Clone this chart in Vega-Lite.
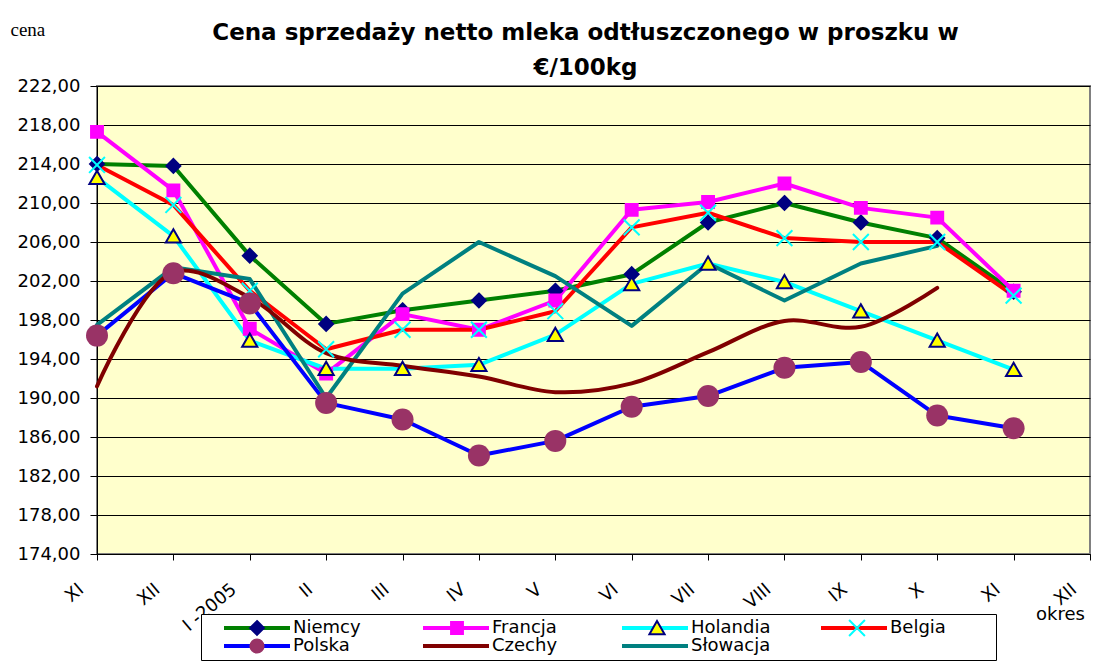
{
  "$schema": "https://vega.github.io/schema/vega-lite/v6.json",
  "width": 993,
  "height": 468,
  "autosize": "none",
  "padding": {"left": 97, "top": 86, "right": 22, "bottom": 114},
  "background": "white",
  "title": {
    "text": ["Cena sprzedaży netto mleka odtłuszczonego w proszku w", "€/100kg"],
    "anchor": "middle",
    "frame": "group",
    "font": "DejaVu Sans",
    "fontSize": 23,
    "fontWeight": "bold",
    "color": "black",
    "lineHeight": 35,
    "offset": 0,
    "dx": -8,
    "dy": 60
  },
  "data": {
    "values": [
      {"m": "XI-04", "s": "Niemcy", "v": 214.0},
      {"m": "XII-04", "s": "Niemcy", "v": 213.8},
      {"m": "I-05", "s": "Niemcy", "v": 204.6},
      {"m": "II-05", "s": "Niemcy", "v": 197.6},
      {"m": "III-05", "s": "Niemcy", "v": 199.0},
      {"m": "IV-05", "s": "Niemcy", "v": 200.0},
      {"m": "V-05", "s": "Niemcy", "v": 201.0},
      {"m": "VI-05", "s": "Niemcy", "v": 202.7},
      {"m": "VII-05", "s": "Niemcy", "v": 208.0},
      {"m": "VIII-05", "s": "Niemcy", "v": 210.0},
      {"m": "IX-05", "s": "Niemcy", "v": 208.0},
      {"m": "X-05", "s": "Niemcy", "v": 206.4},
      {"m": "XI-05", "s": "Niemcy", "v": 200.9},
      {"m": "XI-04", "s": "Francja", "v": 217.3},
      {"m": "XII-04", "s": "Francja", "v": 211.3},
      {"m": "I-05", "s": "Francja", "v": 197.1},
      {"m": "II-05", "s": "Francja", "v": 192.5},
      {"m": "III-05", "s": "Francja", "v": 198.6},
      {"m": "IV-05", "s": "Francja", "v": 197.0},
      {"m": "V-05", "s": "Francja", "v": 200.0},
      {"m": "VI-05", "s": "Francja", "v": 209.3},
      {"m": "VII-05", "s": "Francja", "v": 210.1},
      {"m": "VIII-05", "s": "Francja", "v": 212.0},
      {"m": "IX-05", "s": "Francja", "v": 209.5},
      {"m": "X-05", "s": "Francja", "v": 208.5},
      {"m": "XI-05", "s": "Francja", "v": 201.0},
      {"m": "XI-04", "s": "Holandia", "v": 212.6},
      {"m": "XII-04", "s": "Holandia", "v": 206.6},
      {"m": "I-05", "s": "Holandia", "v": 195.9},
      {"m": "II-05", "s": "Holandia", "v": 193.0},
      {"m": "III-05", "s": "Holandia", "v": 193.0},
      {"m": "IV-05", "s": "Holandia", "v": 193.4},
      {"m": "V-05", "s": "Holandia", "v": 196.5},
      {"m": "VI-05", "s": "Holandia", "v": 201.7},
      {"m": "VII-05", "s": "Holandia", "v": 203.8},
      {"m": "VIII-05", "s": "Holandia", "v": 201.9},
      {"m": "IX-05", "s": "Holandia", "v": 198.9},
      {"m": "X-05", "s": "Holandia", "v": 195.9},
      {"m": "XI-05", "s": "Holandia", "v": 192.9},
      {"m": "XI-04", "s": "Belgia", "v": 213.9},
      {"m": "XII-04", "s": "Belgia", "v": 209.8},
      {"m": "I-05", "s": "Belgia", "v": 201.0},
      {"m": "II-05", "s": "Belgia", "v": 195.0},
      {"m": "III-05", "s": "Belgia", "v": 197.0},
      {"m": "IV-05", "s": "Belgia", "v": 197.0},
      {"m": "V-05", "s": "Belgia", "v": 198.9},
      {"m": "VI-05", "s": "Belgia", "v": 207.5},
      {"m": "VII-05", "s": "Belgia", "v": 209.0},
      {"m": "VIII-05", "s": "Belgia", "v": 206.4},
      {"m": "IX-05", "s": "Belgia", "v": 206.0},
      {"m": "X-05", "s": "Belgia", "v": 206.0},
      {"m": "XI-05", "s": "Belgia", "v": 200.5},
      {"m": "XI-04", "s": "Polska", "v": 196.4},
      {"m": "XII-04", "s": "Polska", "v": 202.8},
      {"m": "I-05", "s": "Polska", "v": 199.7},
      {"m": "II-05", "s": "Polska", "v": 189.5},
      {"m": "III-05", "s": "Polska", "v": 187.8},
      {"m": "IV-05", "s": "Polska", "v": 184.1},
      {"m": "V-05", "s": "Polska", "v": 185.6},
      {"m": "VI-05", "s": "Polska", "v": 189.1},
      {"m": "VII-05", "s": "Polska", "v": 190.2},
      {"m": "VIII-05", "s": "Polska", "v": 193.1},
      {"m": "IX-05", "s": "Polska", "v": 193.7},
      {"m": "X-05", "s": "Polska", "v": 188.2},
      {"m": "XI-05", "s": "Polska", "v": 186.9},
      {"m": "XI-04", "s": "Czechy", "v": 191.2},
      {"m": "XII-04", "s": "Czechy", "v": 202.9},
      {"m": "I-05", "s": "Czechy", "v": 200.3},
      {"m": "II-05", "s": "Czechy", "v": 194.6},
      {"m": "III-05", "s": "Czechy", "v": 193.3},
      {"m": "IV-05", "s": "Czechy", "v": 192.2},
      {"m": "V-05", "s": "Czechy", "v": 190.6},
      {"m": "VI-05", "s": "Czechy", "v": 191.5},
      {"m": "VII-05", "s": "Czechy", "v": 194.7},
      {"m": "VIII-05", "s": "Czechy", "v": 197.9},
      {"m": "IX-05", "s": "Czechy", "v": 197.3},
      {"m": "X-05", "s": "Czechy", "v": 201.3},
      {"m": "XI-04", "s": "Słowacja", "v": 197.5},
      {"m": "XII-04", "s": "Słowacja", "v": 203.4},
      {"m": "I-05", "s": "Słowacja", "v": 202.2},
      {"m": "II-05", "s": "Słowacja", "v": 190.0},
      {"m": "III-05", "s": "Słowacja", "v": 200.7},
      {"m": "IV-05", "s": "Słowacja", "v": 206.0},
      {"m": "V-05", "s": "Słowacja", "v": 202.5},
      {"m": "VI-05", "s": "Słowacja", "v": 197.4},
      {"m": "VII-05", "s": "Słowacja", "v": 203.8},
      {"m": "VIII-05", "s": "Słowacja", "v": 200.0},
      {"m": "IX-05", "s": "Słowacja", "v": 203.8},
      {"m": "X-05", "s": "Słowacja", "v": 205.6}
    ]
  },
  "encoding": {
    "x": {
      "field": "m",
      "type": "ordinal",
      "scale": {
        "domain": ["XI-04", "XII-04", "I-05", "II-05", "III-05", "IV-05", "V-05", "VI-05", "VII-05", "VIII-05", "IX-05", "X-05", "XI-05", "XII-05"],
        "padding": 0
      },
      "axis": {
        "title": "okres",
        "titleX": 963,
        "titleY": 65,
        "titleAlign": "center",
        "titleBaseline": "alphabetic",
        "titleFont": "DejaVu Sans",
        "titleFontSize": 18,
        "titleFontWeight": "normal",
        "titleColor": "black",
        "labelExpr": "datum.value == 'I-05' ? 'I -2005' : split(datum.value, '-')[0]",
        "labelAngle": -40,
        "labelAlign": "right",
        "labelBaseline": "middle",
        "labelFont": "DejaVu Sans",
        "labelFontSize": 18,
        "labelColor": "black",
        "labelPadding": 27,
        "labelOffset": -16,
        "labelOverlap": false,
        "labelBound": false,
        "tickSize": 6,
        "tickColor": "black",
        "domainColor": "black",
        "grid": false
      }
    },
    "y": {
      "field": "v",
      "type": "quantitative",
      "scale": {"domain": [174, 222], "nice": false, "zero": false},
      "axis": {
        "title": "cena",
        "titleAngle": 0,
        "titleX": -87,
        "titleY": -51,
        "titleAlign": "left",
        "titleBaseline": "alphabetic",
        "titleFont": "Liberation Serif",
        "titleFontSize": 19,
        "titleFontWeight": "normal",
        "titleColor": "black",
        "values": [174, 178, 182, 186, 190, 194, 198, 202, 206, 210, 214, 218, 222],
        "labelExpr": "replace(format(datum.value, '.2f'), '.', ',')",
        "labelFont": "DejaVu Sans",
        "labelFontSize": 18,
        "labelColor": "black",
        "labelPadding": 10,
        "tickSize": 7,
        "tickColor": "black",
        "domainColor": "black",
        "grid": true,
        "gridColor": "black",
        "gridWidth": 1
      }
    }
  },
  "layer": [
    {
      "transform": [{"filter": "datum.s != 'Czechy'"}],
      "mark": {"type": "line", "strokeWidth": 4, "strokeJoin": "round", "strokeCap": "round"},
      "encoding": {
        "color": {
          "field": "s",
          "type": "nominal",
          "scale": {
            "domain": ["Niemcy", "Francja", "Holandia", "Belgia", "Polska", "Czechy", "Słowacja"],
            "range": ["#008000", "#FF00FF", "#00FFFF", "#FF0000", "#0000FF", "#800000", "#008080"]
          },
          "legend": {
            "orient": "none",
            "legendX": 104,
            "legendY": 528,
            "direction": "horizontal",
            "columns": 4,
            "title": "\u00a0",
            "titleOrient": "right",
            "titlePadding": 45,
            "titleFontSize": 18,
            "symbolType": "stroke",
            "symbolSize": 4356,
            "symbolStrokeWidth": 4,
            "symbolOffset": 16,
            "labelOffset": 1,
            "labelFont": "DejaVu Sans",
            "labelFontSize": 18,
            "labelColor": "black",
            "padding": 5,
            "fillColor": "white",
            "strokeColor": "black",
            "columnPadding": 32,
            "rowPadding": 0,
            "gridAlign": "all",
            "clipHeight": 18
          }
        }
      }
    },
    {
      "transform": [{"filter": "datum.s == 'Czechy'"}],
      "mark": {"type": "line", "strokeWidth": 4, "strokeJoin": "round", "strokeCap": "round", "interpolate": "catmull-rom"},
      "encoding": {
        "color": {"field": "s", "type": "nominal"}
      }
    },
    {
      "transform": [{"filter": {"field": "s", "oneOf": ["Niemcy", "Francja", "Holandia", "Belgia", "Polska"]}}],
      "mark": {"type": "point", "filled": true, "size": 4356, "strokeWidth": 2, "opacity": 1},
      "encoding": {
        "shape": {
          "field": "s",
          "type": "nominal",
          "scale": {
            "domain": ["Niemcy", "Francja", "Holandia", "Belgia", "Polska", "Czechy", "Słowacja"],
            "range": [
              "M0,-0.21L0.21,0L0,0.21L-0.21,0Z",
              "M-0.18,-0.18L0.18,-0.18L0.18,0.18L-0.18,0.18Z",
              "M0,-0.21L0.23,0.19L-0.23,0.19Z",
              "M-0.24,-0.24L0.24,0.24M-0.24,0.24L0.24,-0.24",
              "M-0.2,0A0.2,0.2,0,1,0,0.2,0A0.2,0.2,0,1,0,-0.2,0Z",
              "M0,0Z",
              "M0,0Z"
            ]
          },
          "legend": {
            "orient": "none", "legendX": 104, "legendY": 528, "direction": "horizontal", "columns": 4, "title": null,
            "symbolSize": 4356, "symbolStrokeWidth": 2, "symbolOffset": 17, "labelOffset": 3,
            "labelFont": "DejaVu Sans", "labelFontSize": 18, "labelColor": "transparent",
            "padding": 5, "columnPadding": 32, "rowPadding": 0, "gridAlign": "all", "clipHeight": 18
          }
        },
        "fill": {
          "field": "s",
          "type": "nominal",
          "scale": {
            "domain": ["Niemcy", "Francja", "Holandia", "Belgia", "Polska", "Czechy", "Słowacja"],
            "range": ["#000080", "#FF00FF", "#FFFF00", "transparent", "#993366", "transparent", "transparent"]
          },
          "legend": {
            "orient": "none", "legendX": 104, "legendY": 528, "direction": "horizontal", "columns": 4, "title": null,
            "symbolSize": 4356, "symbolStrokeWidth": 2, "symbolOffset": 17, "labelOffset": 3,
            "labelFont": "DejaVu Sans", "labelFontSize": 18, "labelColor": "transparent",
            "padding": 5, "columnPadding": 32, "rowPadding": 0, "gridAlign": "all", "clipHeight": 18
          }
        },
        "stroke": {
          "field": "s",
          "type": "nominal",
          "scale": {
            "domain": ["Niemcy", "Francja", "Holandia", "Belgia", "Polska", "Czechy", "Słowacja"],
            "range": ["#000080", "#FF00FF", "#000080", "#00FFFF", "#993366", "transparent", "transparent"]
          },
          "legend": {
            "orient": "none", "legendX": 104, "legendY": 528, "direction": "horizontal", "columns": 4, "title": null,
            "symbolSize": 4356, "symbolStrokeWidth": 2, "symbolOffset": 17, "labelOffset": 3,
            "labelFont": "DejaVu Sans", "labelFontSize": 18, "labelColor": "transparent",
            "padding": 5, "columnPadding": 32, "rowPadding": 0, "gridAlign": "all", "clipHeight": 18
          }
        }
      }
    },
    {
      "transform": [{"filter": "datum.s == 'Polska'"}],
      "mark": {"type": "point", "shape": "circle", "filled": true, "color": "#993366", "size": 484, "opacity": 1, "strokeWidth": 0}
    }
  ],
  "resolve": {"legend": {"shape": "independent", "fill": "independent", "stroke": "independent"}},
  "config": {
    "view": {"fill": "#FFFFCC", "stroke": "#808080", "strokeWidth": 2}
  }
}
